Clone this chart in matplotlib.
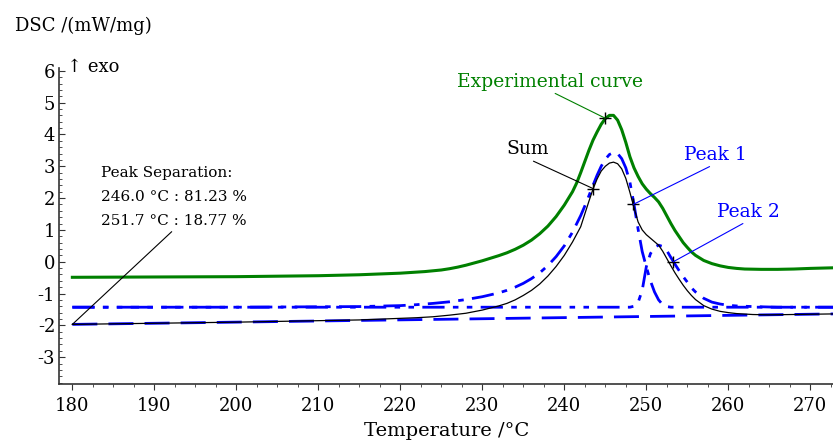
import numpy as np
import matplotlib.pyplot as plt

plt.rcParams['font.family'] = ['DejaVu Serif']
plt.rcParams['axes.unicode_minus'] = False

# experimental DSC curve
exp_t = [180, 190, 200, 210, 215, 220, 223, 225, 226, 227, 228, 229, 230, 231, 232, 233, 234,
         235, 236, 237, 238, 239, 240, 241, 241.5, 242, 242.5, 243, 243.5, 244, 244.5, 245,
         245.5, 246, 246.5, 247, 247.5, 248, 248.5, 249, 249.5, 250, 250.5, 251, 251.5, 252,
         252.5, 253, 253.5, 254, 254.5, 255, 255.5, 256, 257, 258, 259, 260, 261, 262, 264,
         266, 268, 270, 273]
exp_v = [-0.49, -0.48, -0.47, -0.44, -0.41, -0.36, -0.31, -0.26, -0.22, -0.17, -0.11, -0.04,
         0.03, 0.11, 0.19, 0.28, 0.39, 0.52, 0.68, 0.88, 1.12, 1.42, 1.78, 2.20, 2.47, 2.80,
         3.15, 3.50, 3.82, 4.08, 4.32, 4.50, 4.60, 4.60, 4.45, 4.15, 3.75, 3.30, 2.95, 2.68,
         2.45, 2.28, 2.14, 2.02, 1.88, 1.68, 1.44, 1.20, 0.98, 0.79, 0.60, 0.45, 0.31, 0.20,
         0.04, -0.06, -0.13, -0.18, -0.21, -0.23, -0.24, -0.24, -0.23, -0.21, -0.19]

# fitted peak 1
p1_t = [180, 200, 215, 220, 222, 224, 226, 228, 230, 232, 233, 234, 235, 236, 237, 238, 239,
        240, 241, 242, 242.5, 243, 243.5, 244, 244.5, 245, 245.5, 246, 246.5, 247, 247.5, 248,
        248.5, 249, 249.5, 250, 250.5, 251, 251.5, 252, 252.5, 253, 273]
p1_v = [-1.43, -1.43, -1.41, -1.38, -1.35, -1.31, -1.26, -1.19, -1.10, -0.98, -0.90, -0.80,
        -0.68, -0.53, -0.35, -0.12, 0.16, 0.50, 0.93, 1.45, 1.75, 2.07, 2.40, 2.72, 3.00, 3.22,
        3.37, 3.43, 3.40, 3.24, 2.95, 2.50, 1.80, 1.02, 0.32, -0.16, -0.60, -0.95, -1.20, -1.35,
        -1.41, -1.43, -1.43]

# fitted peak 2
p2_t = [180, 248, 248.5, 249, 249.5, 250, 250.5, 251, 251.5, 252, 252.5, 253, 253.5, 254,
        254.5, 255, 255.5, 256, 257, 258, 259, 260, 261, 263, 266, 273]
p2_v = [-1.43, -1.43, -1.40, -1.28, -0.90, -0.16, 0.25, 0.46, 0.52, 0.48, 0.35, 0.13, -0.08,
        -0.28, -0.47, -0.64, -0.82, -0.95, -1.15, -1.27, -1.33, -1.37, -1.39, -1.41, -1.43, -1.43]

# sum of fitted peaks
sum_t = [180, 200, 215, 222, 224, 226, 228, 230, 232, 233, 234, 235, 236, 237, 238, 239, 240,
         241, 242, 242.5, 243, 243.5, 244, 244.5, 245, 245.5, 246, 246.5, 247, 247.5, 248,
         248.5, 249, 249.5, 250, 250.5, 251, 251.5, 252, 252.5, 253, 253.5, 254, 254.5, 255,
         255.5, 256, 257, 258, 259, 260, 261, 263, 265, 273]
sum_v = [-1.97, -1.90, -1.83, -1.76, -1.73, -1.68, -1.62, -1.52, -1.39, -1.31, -1.20, -1.06,
         -0.90, -0.70, -0.45, -0.15, 0.20, 0.62, 1.10, 1.50, 1.90, 2.28, 2.60, 2.85, 3.00,
         3.10, 3.13, 3.08, 2.92, 2.62, 2.18, 1.70, 1.25, 1.00, 0.85, 0.74, 0.63, 0.52, 0.33,
         0.10, -0.13, -0.35, -0.55, -0.74, -0.91, -1.06, -1.19, -1.38, -1.49, -1.56, -1.60,
         -1.63, -1.66, -1.67, -1.64]

# baseline
base_t = [180, 273]
base_v = [-1.97, -1.64]

sep_lines = ['Peak Separation:', '246.0 °C : 81.23 %', '251.7 °C : 18.77 %']

fig = plt.figure(figsize=(8.33, 4.46), dpi=100)
ax = fig.add_axes([0.0712, 0.140, 0.9288, 0.7076])

ax.plot(base_t, base_v, color='#0000ff', lw=2, dashes=(9, 4))
ax.plot(p1_t, p1_v, color='#0000ff', lw=2, dashes=(8, 3, 2, 3))
ax.plot(p2_t, p2_v, color='#0000ff', lw=2, dashes=(8, 3, 2, 3, 2, 3))
ax.plot(sum_t, sum_v, color='black', lw=0.9)
ax.plot(exp_t, exp_v, color='#008000', lw=2.2)

ax.set_xlim(178.41, 272.77)
ax.set_ylim(-3.83, 6.09)
ax.set_xticks(np.arange(180, 271, 10))
ax.set_xticks(np.arange(180, 273, 2.5), minor=True)
ax.set_yticks(np.arange(-3, 7, 1))
ax.set_yticks(np.arange(-3.8, 6.1, 0.2), minor=True)
ax.spines['top'].set_visible(False)
ax.spines['right'].set_visible(False)
for s in ['left', 'bottom']:
    ax.spines[s].set_color('#333333')
    ax.spines[s].set_linewidth(1.2)
ax.tick_params(axis='y', which='both', direction='in', labelsize=13, colors='#333333', labelcolor='black')
ax.tick_params(axis='y', which='major', length=4, pad=3)
ax.tick_params(axis='y', which='minor', length=2)
ax.tick_params(axis='x', which='both', direction='out', labelsize=13, colors='#333333', labelcolor='black')
ax.tick_params(axis='x', which='major', length=4, pad=6)
ax.tick_params(axis='x', which='minor', length=2)

ax.set_xlabel('Temperature /°C', fontsize=14, labelpad=5)
fig.text(0.018, 0.942, 'DSC /(mW/mg)', fontsize=13, va='center')
ax.text(179.3, 6.12, '↑ exo', fontsize=13, va='center')

fs = 13.5
line_kw = dict(arrowstyle='-', lw=0.8, shrinkA=0, shrinkB=0)
ax.annotate('Experimental curve', xy=(245.0, 4.51), xytext=(238.2, 5.66), color='#008000',
            fontsize=fs, ha='center', va='center',
            arrowprops=dict(color='#008000', relpos=(0.5, 0.0), **line_kw))
ax.annotate('Sum', xy=(243.5, 2.30), xytext=(235.5, 3.53), color='black',
            fontsize=fs, ha='center', va='center',
            arrowprops=dict(color='black', relpos=(0.5, 0.0), **line_kw))
ax.annotate('Peak 1', xy=(248.4, 1.80), xytext=(258.4, 3.36), color='#0000ff',
            fontsize=fs, ha='center', va='center',
            arrowprops=dict(color='#0000ff', relpos=(0.5, 0.0), **line_kw))
ax.annotate('Peak 2', xy=(253.3, 0.0), xytext=(262.4, 1.57), color='#0000ff',
            fontsize=fs, ha='center', va='center',
            arrowprops=dict(color='#0000ff', relpos=(0.5, 0.0), **line_kw))

for ty, s in zip([2.79, 2.03, 1.28], sep_lines):
    ax.text(183.5, ty, s, fontsize=11, ha='left', va='center')
ax.plot([180, 192.1], [-1.97, 0.94], color='black', lw=0.8)

mark_t = [245.0, 243.5, 248.4, 253.3]
mark_v = [4.51, 2.30, 1.80, 0.0]
ax.plot(mark_t, mark_v, '+', color='black', ms=8, mew=1)

fig.savefig('out.png', dpi=100)
